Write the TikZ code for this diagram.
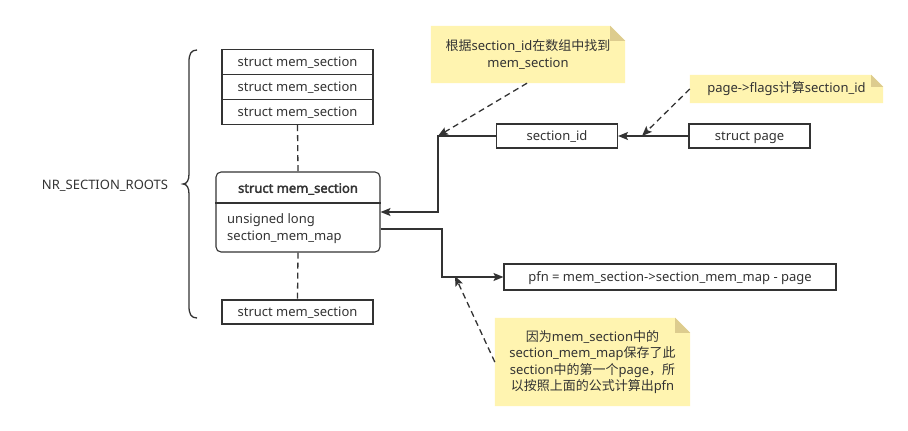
\documentclass[tikz,border=0pt]{standalone}
\usepackage{fontspec}
\setmainfont{Noto Sans}
\newfontfamily\cjk{Noto Sans CJK SC}
\newfontfamily\fakebold{Noto Sans}[FakeBold=2.5]
\usetikzlibrary{arrows.meta,backgrounds}
\definecolor{ln}{HTML}{333333}
\definecolor{notefill}{HTML}{FFF4B0}
\definecolor{notefold}{HTML}{DDCC8E}
\begin{document}
\begin{tikzpicture}[x=1pt,y=-1pt,
  font=\fontsize{13}{16.5}\selectfont, text=ln,
  box/.style={draw=ln, line width=1.1pt, fill=white, inner sep=0pt, anchor=center, text height=9.5pt, text depth=0pt},
  notebox/.style={draw=none, inner sep=0pt, align=center, anchor=center},
  arr/.style={draw=ln, line width=1.3pt, -{Stealth[length=10pt,width=8pt,inset=2pt]}},
  darr/.style={arr, dash pattern=on 6pt off 4pt},
  dline/.style={draw=ln, line width=1.3pt, dash pattern=on 6pt off 4pt}]
\useasboundingbox (0,0) rectangle (908,431);

% left stack
\node[box, minimum width=151pt, minimum height=25pt] (b1) at (297.5,62) {struct mem\_section};
\node[box, minimum width=151pt, minimum height=25pt] (b2) at (297.5,87) {struct mem\_section};
\node[box, minimum width=151pt, minimum height=25pt] (b3) at (297.5,112) {struct mem\_section};
\node[box, minimum width=164pt, minimum height=80pt, rounded corners=5pt] (big) at (298,212) {};
\node (bigt) at (298,189) {\fakebold struct mem\_section};
\draw[ln, line width=1.1pt] (big.west |- 0,203) -- (big.east |- 0,203);
\node[anchor=west, align=left, inner sep=0pt, font=\fontsize{13}{17}\selectfont] (bigb) at (227,229) {unsigned long\\section\_mem\_map};
\node[box, minimum width=151pt, minimum height=24pt] (b4) at (297.5,312) {struct mem\_section};

\draw[dline] (b3.south) -- (big.north);
\draw[dline] (big.south) -- (b4.north);

% brace
\draw[ln, line width=1.3pt] (197,50) .. controls (191,50) and (189,54) .. (189,62) -- (189,174)
  .. controls (189,180) and (187,184) .. (183,184)
  .. controls (187,184) and (189,188) .. (189,194) -- (189,306)
  .. controls (189,314) and (191,318) .. (197,318);
\node (roots) at (105,186) {NR\_SECTION\_ROOTS};

% right side boxes
\node[box, minimum width=121pt, minimum height=24pt] (sid) at (557,136) {section\_id};
\node[box, minimum width=121pt, minimum height=24pt] (page) at (749.5,136) {struct page};
\node[box, minimum width=332pt, minimum height=26pt] (pfn) at (670,277) {pfn = mem\_section->section\_mem\_map - page};

% notes
\node[notebox, minimum width=194pt, minimum height=57pt] (n1) at (528,54.5)
  {{\cjk 根据}section\_id{\cjk 在数组中找到}\\mem\_section};
\node[notebox, minimum width=193pt, minimum height=28pt] (n2) at (786.5,89)
  {page->flags{\cjk 计算}section\_id};
\node[notebox, minimum width=195pt, minimum height=88pt] (n3) at (592.5,362)
  {{\cjk 因为}mem\_section{\cjk 中的}\\section\_mem\_map{\cjk 保存了此}\\section{\cjk 中的第一个}page{\cjk ，所}\\{\cjk 以按照上面的公式计算出}pfn};

\begin{pgfonlayer}{background}
  \fill[white] (0,0) rectangle (908,431);
  \foreach \n/\f in {n1/15, n2/12, n3/15}{
    \fill[notefill] (\n.south west) -- (\n.north west) -- ([xshift=-\f pt]\n.north east)
      -- ([yshift=-\f pt]\n.north east) -- (\n.south east) -- cycle;
    \fill[notefold] ([xshift=-\f pt]\n.north east) -- ([xshift=-\f pt, yshift=-\f pt]\n.north east)
      -- ([yshift=-\f pt]\n.north east) -- cycle;
  }
\end{pgfonlayer}

% connectors
\coordinate (c1) at (438,136);
\coordinate (c2) at (642,136);
\coordinate (c3) at (442,229);
\coordinate (c4) at (455,276);

\draw[arr] (page.west) -- (sid.east);
\draw[arr] (sid.west) -- (c1) |- (big.east);
\draw[arr] ([yshift=-17pt]big.east) -- (c3) |- (pfn.west);

\draw[darr] ([xshift=-1pt]n1.south) -- (c1);
\draw[darr] (n2.west) -- (c2);
\draw[darr] (n3.west) -- (c4);
\end{tikzpicture}
\end{document}
